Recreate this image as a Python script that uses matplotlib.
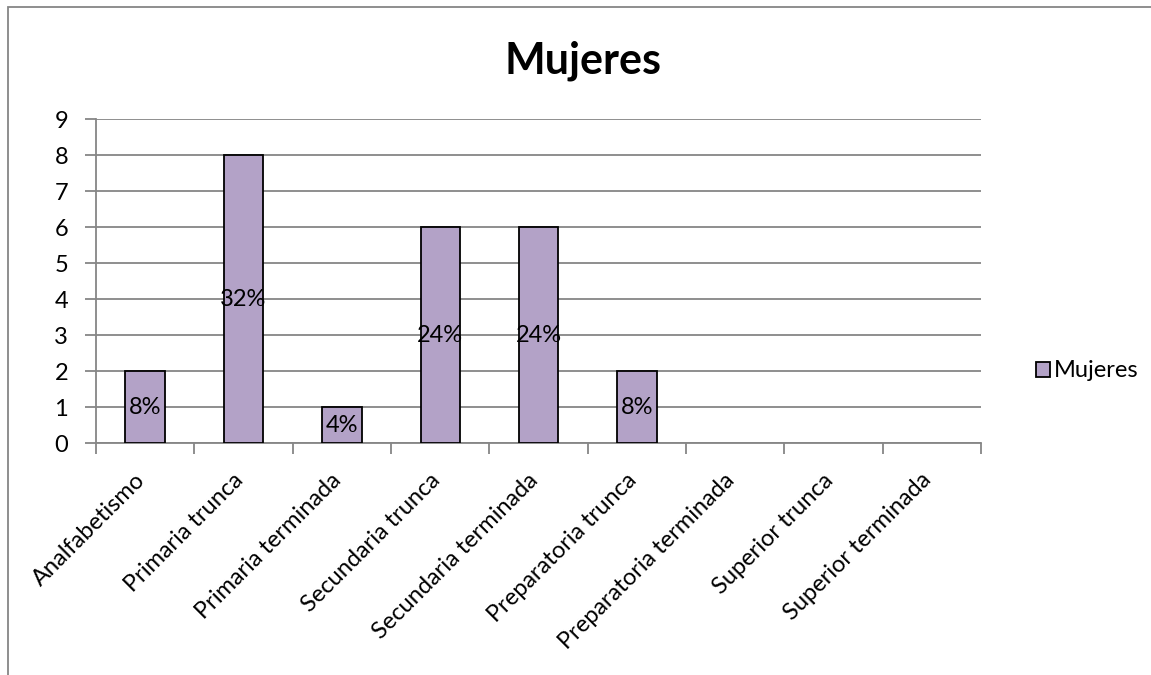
import numpy as np
import matplotlib.pyplot as plt
import matplotlib.transforms as mtransforms
from matplotlib.patches import Rectangle

plt.rcParams['font.family'] = ['Lato', 'DejaVu Sans']

categorias = ['Analfabetismo', 'Primaria trunca', 'Primaria terminada',
              'Secundaria trunca', 'Secundaria terminada', 'Preparatoria trunca',
              'Preparatoria terminada', 'Superior trunca', 'Superior terminada']
mujeres = [2, 8, 1, 6, 6, 2, 0, 0, 0]
porcentajes = ['8%', '32%', '4%', '24%', '24%', '8%', '', '', '']

W, H = 1151, 675
fig = plt.figure(figsize=(W / 100, H / 100), dpi=100)
ax = fig.add_axes([96 / W, 1 - 443 / H, (981 - 96) / W, (443 - 119) / H])

x = np.arange(len(categorias))
# las barras en cero no llevan borde
bordes = ['black' if v > 0 else 'none' for v in mujeres]
barras = ax.bar(x, mujeres, width=0.4, color='#b3a2c7', edgecolor=bordes,
                linewidth=1.3, label='Mujeres', zorder=3)

# etiquetas de porcentaje a media altura de cada barra
for xi, v, p in zip(x, mujeres, porcentajes):
    if p:
        ax.text(xi, v / 2, p, ha='center', va='center', fontsize=17, zorder=4)

ax.set_xlim(-0.5, len(categorias) - 0.5)
ax.set_ylim(0, 9)
ax.set_yticks(range(10))
ax.yaxis.grid(True, color='#868686', linewidth=1.3, zorder=0)

ax.set_xticks(np.arange(len(categorias) + 1) - 0.5)
ax.set_xticklabels([])
ax.set_xticks(x, minor=True)
ax.set_xticklabels(categorias, minor=True, rotation=45, ha='right',
                   rotation_mode='anchor', fontsize=17)
ax.tick_params(axis='x', which='minor', length=0, pad=19)
ax.tick_params(axis='x', which='major', length=8, color='#868686', width=1.3)
ax.tick_params(axis='y', length=8, color='#868686', width=1.3, labelsize=17, pad=12)

# correr un poco las etiquetas inclinadas hacia la izquierda
desplaza = mtransforms.ScaledTranslation(-8 / 72, 0, fig.dpi_scale_trans)
for lbl in ax.get_xticklabels(minor=True):
    lbl.set_transform(lbl.get_transform() + desplaza)

for s in ['top', 'right']:
    ax.spines[s].set_visible(False)
for s in ['left', 'bottom']:
    ax.spines[s].set_color('#868686')
    ax.spines[s].set_linewidth(1.3)

fig.text(583 / W, 1 - 61 / H, 'Mujeres', ha='center', va='center',
         fontsize=31, fontweight='bold')

leg = fig.legend(handles=[barras], loc='center left', bbox_to_anchor=(1036 / W, 1 - 371 / H),
                 frameon=False, fontsize=17, handlelength=0.6, handleheight=0.6,
                 handletextpad=0.15, borderaxespad=0, borderpad=0)
leg.legend_handles[0].set_edgecolor('black')

# marco del gráfico
fig.patches.append(Rectangle((8 / W, -0.1), 1.2, 0.1 + 1 - 7.5 / H, transform=fig.transFigure,
                             fill=False, edgecolor='#868686', linewidth=1.3))

fig.savefig('out.png', dpi=100, facecolor='white')
